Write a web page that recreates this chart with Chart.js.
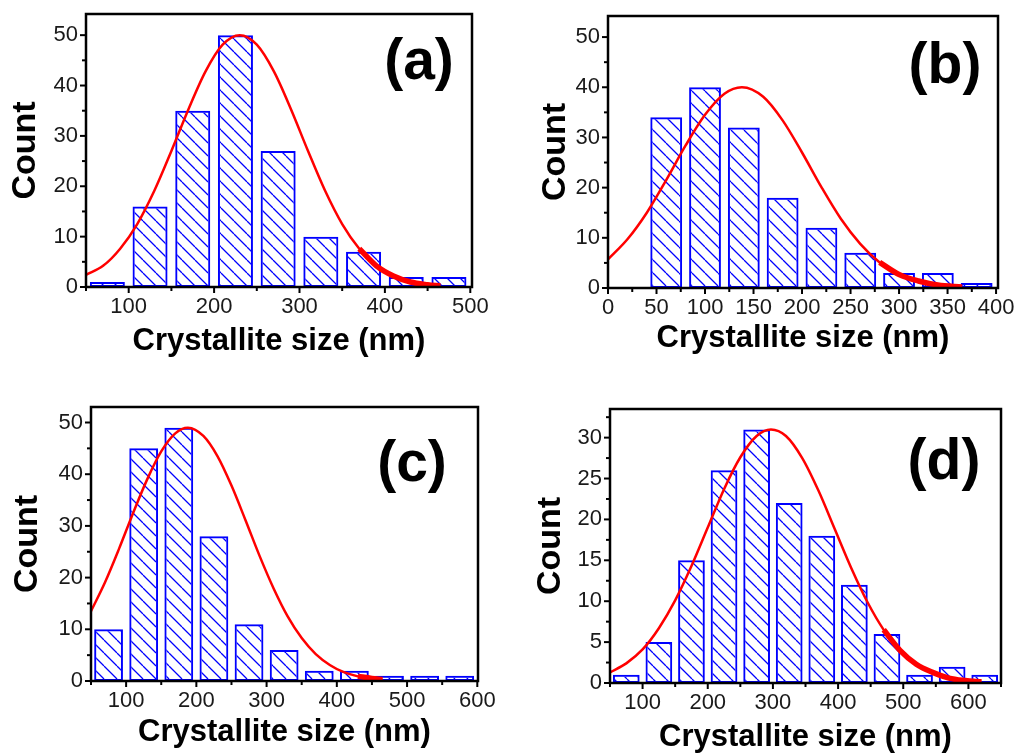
<!DOCTYPE html>
<html>
<head>
<title>Crystallite size histograms</title>
<script src="https://cdn.jsdelivr.net/npm/chart.js"></script>
<style>
  body { margin: 0; background: #fff; }
  canvas { position: absolute; }
</style>
</head>
<body>
<canvas id="chartA" width="510" height="370" style="left:0;top:0"></canvas>
<canvas id="chartB" width="510" height="370" style="left:510px;top:0"></canvas>
<canvas id="chartC" width="510" height="376" style="left:0;top:380px"></canvas>
<canvas id="chartD" width="510" height="376" style="left:510px;top:380px"></canvas>

<script>
// (a)
const binsA   = [75, 125, 175, 225, 275, 325, 375, 425, 475];
const countsA = [1, 16, 35, 50, 27, 10, 7, 2, 2];
const fitXA = [50, 70, 90, 110, 130, 150, 170, 190, 210, 230, 250, 270, 290, 310, 330, 350, 370, 390, 410, 430, 450, 465];
const fitYA = [2.4, 4.2, 7.6, 12.5, 19.1, 27.0, 35.3, 42.8, 48.1, 50, 48.1, 42.8, 35.3, 27.0, 19.1, 12.5, 7.6, 4.2, 2.2, 1.0, 0.45, 0.2];
const xTicksA = [100, 200, 300, 400, 500];
const yTicksA = [0, 10, 20, 30, 40, 50];

// (b)
const binsB   = [60, 100, 140, 180, 220, 260, 300, 340, 380];
const countsB = [34, 40, 32, 18, 12, 7, 3, 3, 1];
const fitXB = [0, 20, 40, 60, 80, 100, 120, 138, 160, 180, 200, 220, 240, 260, 280, 300, 320, 340, 365];
const fitYB = [5.7, 9.7, 15.0, 21.5, 28.4, 34.5, 38.7, 40, 38.1, 33.4, 27.0, 20.1, 13.8, 8.8, 5.1, 2.7, 1.4, 0.6, 0.2];
const xTicksB = [0, 50, 100, 150, 200, 250, 300, 350, 400];
const yTicksB = [0, 10, 20, 30, 40, 50];

// (c)
const binsC   = [75, 125, 175, 225, 275, 325, 375, 425, 475, 525, 575];
const countsC = [10, 45, 49, 28, 11, 6, 2, 2, 1, 1, 1];
const fitXC = [50, 70, 90, 110, 130, 150, 170, 188, 210, 230, 250, 270, 290, 310, 330, 350, 370, 390, 410, 430, 450, 465];
const fitYC = [13.5, 19.1, 25.6, 32.5, 39.0, 44.4, 47.9, 49, 47.4, 43.5, 37.8, 31.1, 24.2, 17.9, 12.5, 8.3, 5.2, 3.1, 1.7, 0.9, 0.5, 0.3];
const xTicksC = [100, 200, 300, 400, 500, 600];
const yTicksC = [0, 10, 20, 30, 40, 50];

// (d)
const binsD   = [75, 125, 175, 225, 275, 325, 375, 425, 475, 525, 575, 625];
const countsD = [1, 5, 15, 26, 31, 22, 18, 12, 6, 1, 2, 1];
const fitXD = [50, 75, 100, 125, 150, 175, 200, 225, 250, 275, 297, 320, 345, 370, 395, 420, 445, 470, 495, 520, 545, 570, 595, 620];
const fitYD = [1.3, 2.4, 4.1, 6.7, 10.1, 14.3, 19.0, 23.7, 27.6, 30.2, 31, 30.2, 27.5, 23.5, 18.8, 14.1, 9.9, 6.5, 4.0, 2.3, 1.3, 0.6, 0.3, 0.15];
const xTicksD = [100, 200, 300, 400, 500, 600];
const yTicksD = [0, 5, 10, 15, 20, 25, 30];

const xTitle = 'Crystallite size (nm)';
const yTitle = 'Count';

Chart.defaults.font.family = "'Liberation Sans', Arial, sans-serif";
Chart.defaults.color = '#1a1a1a';

const panels = [
  { id: 'chartA', label: '(a)', bins: binsA, counts: countsA, fitX: fitXA, fitY: fitYA, thick: [370, 465],
    xTicks: xTicksA, yTicks: yTicksA, xMin: 50, xMax: 502, yMax: 54.2,
    pad: { top: 14, right: 38 }, yWidth: 86, xHeight: 83, countPad: 5, titlePad: 10, labelAt: [-53, 49] },
  { id: 'chartB', label: '(b)', bins: binsB, counts: countsB, fitX: fitXB, fitY: fitYB, thick: [280, 365],
    xTicks: xTicksB, yTicks: yTicksB, xMin: 0, xMax: 402, yMax: 54.2,
    pad: { top: 16, right: 22 }, yWidth: 98, xHeight: 82, countPad: 25, titlePad: 13, labelAt: [-53, 51] },
  { id: 'chartC', label: '(c)', bins: binsC, counts: countsC, fitX: fitXC, fitY: fitYC, thick: [430, 465],
    xTicks: xTicksC, yTicks: yTicksC, xMin: 50, xMax: 601, yMax: 53,
    pad: { top: 27, right: 32 }, yWidth: 91, xHeight: 75, countPad: 7, titlePad: 5, labelAt: [-66, 58] },
  { id: 'chartD', label: '(d)', bins: binsD, counts: countsD, fitX: fitXD, fitY: fitYD, thick: [470, 620],
    xTicks: xTicksD, yTicks: yTicksD, xMin: 50, xMax: 650, yMax: 33.5,
    pad: { top: 29, right: 19 }, yWidth: 100, xHeight: 73, countPad: 20, titlePad: 0, labelAt: [-57, 54] }
];

function hatchPattern(ctx) {
  const s = 13;
  const c = document.createElement('canvas');
  c.width = s; c.height = s;
  const g = c.getContext('2d');
  g.strokeStyle = '#0000ff';
  g.lineWidth = 1.3;
  g.beginPath();
  for (let k = -1; k <= 1; k++) {
    g.moveTo(k * s, 0);
    g.lineTo(k * s + s, s);
  }
  g.stroke();
  return ctx.createPattern(c, 'repeat');
}

// box around the plot, major + minor outward ticks, panel letter
const framePlugin = {
  id: 'frame',
  afterDatasetsDraw(chart, args, opts) {
    const { ctx, chartArea: a, scales } = chart;
    ctx.save();
    ctx.strokeStyle = '#000';
    ctx.lineWidth = 2;
    const drawTicks = (scale, horizontal) => {
      const vals = scale.ticks.map(t => t.value);
      if (vals.length < 2) return;
      const step = vals[1] - vals[0];
      for (let v = vals[0] - step / 2; v <= scale.max + 1e-9; v += step / 2) {
        if (v < scale.min - 1e-9) continue;
        const major = vals.some(t => Math.abs(t - v) < 1e-6);
        const len = major ? 6 : 4;
        const p = scale.getPixelForValue(v);
        ctx.beginPath();
        if (horizontal) { ctx.moveTo(p, a.bottom); ctx.lineTo(p, a.bottom + len); }
        else { ctx.moveTo(a.left, p); ctx.lineTo(a.left - len, p); }
        ctx.stroke();
      }
    };
    drawTicks(scales.x, true);
    drawTicks(scales.y, false);
    ctx.lineWidth = 2.5;
    ctx.strokeRect(a.left, a.top, a.right - a.left, a.bottom - a.top);
    ctx.fillStyle = '#000';
    ctx.font = "bold 57px 'Liberation Sans', Arial, sans-serif";
    ctx.textAlign = 'center';
    ctx.textBaseline = 'middle';
    ctx.fillText(opts.label, a.right + opts.labelAt[0], a.top + opts.labelAt[1]);
    ctx.restore();
  }
};

panels.forEach(p => {
  const ctx = document.getElementById(p.id).getContext('2d');
  const fitPts = p.fitX.map((x, i) => ({ x: x, y: p.fitY[i] }));
  new Chart(ctx, {
    type: 'bar',
    data: {
      datasets: [
        {
          type: 'line',
          data: fitPts.filter(pt => pt.x >= p.thick[0] && pt.x <= p.thick[1]),
          borderColor: '#ff0000',
          borderWidth: 5.5,
          pointRadius: 0,
          cubicInterpolationMode: 'monotone',
          order: 0
        },
        {
          type: 'line',
          data: fitPts,
          borderColor: '#ff0000',
          borderWidth: 2.5,
          pointRadius: 0,
          cubicInterpolationMode: 'monotone',
          order: 1
        },
        {
          type: 'bar',
          data: p.bins.map((x, i) => ({ x: x, y: p.counts[i] })),
          backgroundColor: hatchPattern(ctx),
          borderColor: '#0000ff',
          borderWidth: 2,
          borderSkipped: false,
          categoryPercentage: 1,
          barPercentage: 0.82,
          order: 2
        }
      ]
    },
    options: {
      responsive: false,
      animation: false,
      devicePixelRatio: 1,
      layout: { padding: { top: p.pad.top, right: p.pad.right, left: 0, bottom: 0 } },
      plugins: {
        legend: { display: false },
        tooltip: { enabled: false },
        frame: { label: p.label, labelAt: p.labelAt }
      },
      scales: {
        x: {
          type: 'linear',
          offset: false,
          min: p.xMin,
          max: p.xMax,
          grid: { display: false, drawTicks: false, offset: false },
          border: { display: false },
          ticks: { autoSkip: false, maxRotation: 0, padding: 7, font: { size: 22 } },
          afterBuildTicks(scale) {
            scale.ticks = p.xTicks.map(v => ({ value: v }));
          },
          title: { display: true, text: xTitle, font: { size: 31, weight: 'bold' }, color: '#000',
                   padding: { top: 0, bottom: p.titlePad } },
          afterFit(scale) {
            scale.height = p.xHeight;
            scale.paddingLeft = 0;
            scale.paddingRight = 0;
          }
        },
        y: {
          min: 0,
          max: p.yMax,
          grid: { display: false, drawTicks: false },
          border: { display: false },
          ticks: { padding: 8, font: { size: 22 } },
          afterBuildTicks(scale) {
            scale.ticks = p.yTicks.map(v => ({ value: v }));
          },
          title: { display: true, text: yTitle, font: { size: 34, weight: 'bold' }, color: '#000',
                   padding: { top: p.countPad, bottom: 0 } },
          afterFit(scale) {
            scale.width = p.yWidth;
            scale.paddingTop = 0;
            scale.paddingBottom = 0;
          }
        }
      }
    },
    plugins: [framePlugin]
  });
});
</script>
</body>
</html>
